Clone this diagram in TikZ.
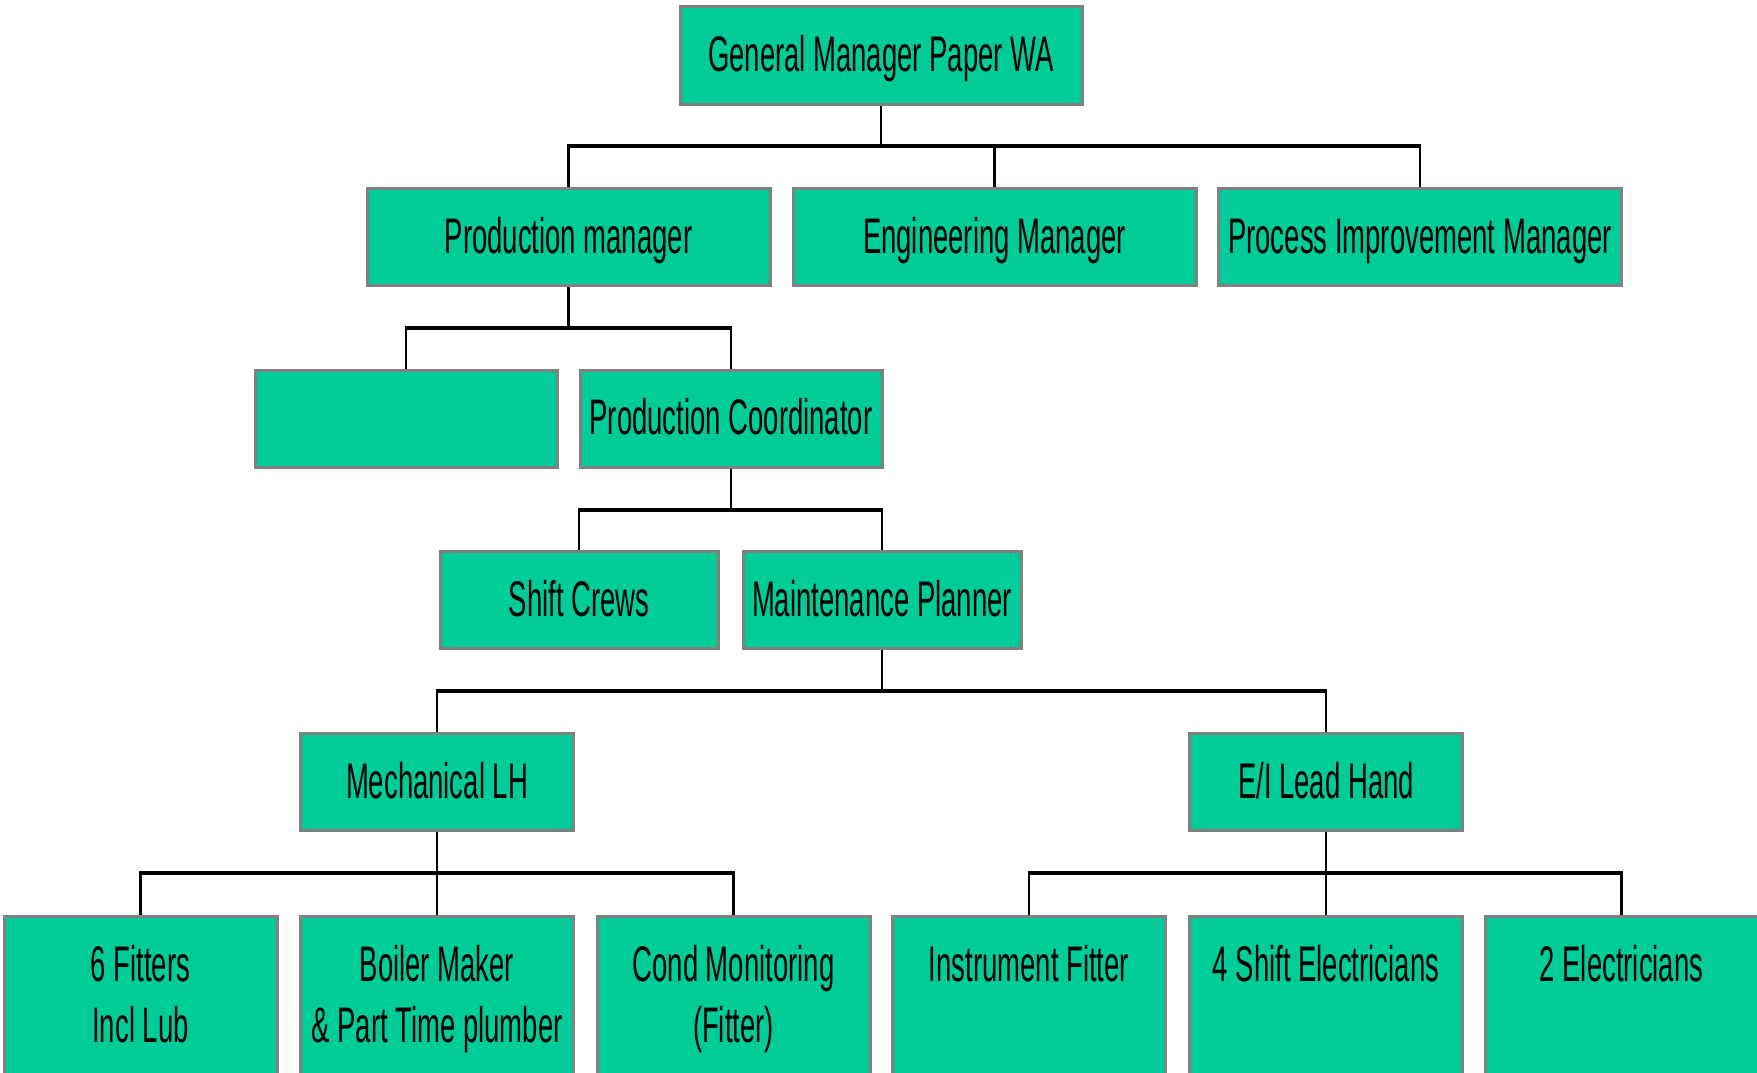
\documentclass[tikz,border=0pt]{standalone}
\usepackage{fontspec}
\setmainfont{Liberation Sans}[FakeStretch=0.55]
\definecolor{boxgreen}{RGB}{0,204,153}
\definecolor{boxgray}{RGB}{128,128,128}
\begin{document}
\begin{tikzpicture}[x=1pt,y=-1pt,
  box/.style={draw=boxgray, line width=3pt, fill=boxgreen, rectangle, inner sep=0pt,
    minimum height=97pt, text height=32pt, text depth=0pt,
    font=\fontsize{50}{61}\selectfont},
  tallbox/.style={draw=boxgray, line width=3pt, fill=boxgreen, rectangle, inner sep=0pt,
    minimum height=190pt, minimum width=273pt},
  txt/.style={align=center, inner sep=0pt, anchor=north, font=\fontsize{50}{61}\selectfont},
  stem/.style={line width=2.2pt, black},
  bus/.style={line width=3.6pt, black}]
\useasboundingbox (0,0) rectangle (1757,1073);
% level 1
\node[box, minimum width=402pt] (gm) at (881,55.5) {General Manager Paper WA};
% level 2
\node[box, minimum width=403pt] (pm) at (568.5,237) {Production manager};
\node[box, minimum width=403pt] (em) at (994.5,237) {Engineering Manager};
\node[box, minimum width=403pt] (pim) at (1420,237) {Process Improvement Manager};
% level 3
\node[box, minimum width=302pt] (blank) at (406,418.5) {};
\node[box, minimum width=302pt] (pc) at (731,418.5) {Production Coordinator};
% level 4
\node[box, minimum width=278pt] (sc) at (579,600) {Shift Crews};
\node[box, minimum width=278pt] (mp) at (882,600) {Maintenance Planner};
% level 5
\node[box, minimum width=273pt] (mlh) at (437,782) {Mechanical LH};
\node[box, minimum width=273pt] (ei) at (1326,782) {E/I Lead Hand};
% level 6
\node[tallbox, anchor=north] (f6) at (140.5,915) {};
\node[tallbox, anchor=north] (bm) at (437,915) {};
\node[tallbox, anchor=north] (cm) at (733.5,915) {};
\node[tallbox, anchor=north] (inf) at (1029,915) {};
\node[tallbox, anchor=north] (se4) at (1326,915) {};
\node[tallbox, anchor=north] (el2) at (1621.5,915) {};
\node[txt] (tf6) at ([yshift=-30pt]f6.north) {6 Fitters\\Incl Lub};
\node[txt] (tbm) at ([yshift=-30pt]bm.north) {Boiler Maker\\\& Part Time plumber};
\node[txt] (tcm) at ([yshift=-30pt]cm.north) {Cond Monitoring\\(Fitter)};
\node[txt] (tinf) at ([yshift=-30pt]inf.north) {Instrument Fitter};
\node[txt] (tse4) at ([yshift=-30pt]se4.north) {4 Shift Electricians};
\node[txt] (tel2) at ([yshift=-30pt]el2.north) {2 Electricians};
% bus coordinates
\coordinate (b1) at (0,146);
\coordinate (b2) at (0,328);
\coordinate (b3) at (0,510);
\coordinate (b4) at (0,691);
\coordinate (b5) at (0,873);
% stems
\foreach \c in {pm,em,pim} \draw[stem] (gm.south) -- (gm.south |- b1) (\c.north |- b1) -- (\c.north);
\foreach \c in {blank,pc} \draw[stem] (pm.south) -- (pm.south |- b2) (\c.north |- b2) -- (\c.north);
\foreach \c in {sc,mp} \draw[stem] (pc.south) -- (pc.south |- b3) (\c.north |- b3) -- (\c.north);
\foreach \c in {mlh,ei} \draw[stem] (mp.south) -- (mp.south |- b4) (\c.north |- b4) -- (\c.north);
\foreach \c in {f6,bm,cm} \draw[stem] (mlh.south) -- (mlh.south |- b5) (\c.north |- b5) -- (\c.north);
\foreach \c in {inf,se4,el2} \draw[stem] (ei.south) -- (ei.south |- b5) (\c.north |- b5) -- (\c.north);
% buses
\draw[bus] ([xshift=-1.1pt]pm.north |- b1) -- ([xshift=1.1pt]pim.north |- b1);
\draw[bus] ([xshift=-1.1pt]blank.north |- b2) -- ([xshift=1.1pt]pc.north |- b2);
\draw[bus] ([xshift=-1.1pt]sc.north |- b3) -- ([xshift=1.1pt]mp.north |- b3);
\draw[bus] ([xshift=-1.1pt]mlh.north |- b4) -- ([xshift=1.1pt]ei.north |- b4);
\draw[bus] ([xshift=-1.1pt]f6.north |- b5) -- ([xshift=1.1pt]cm.north |- b5);
\draw[bus] ([xshift=-1.1pt]inf.north |- b5) -- ([xshift=1.1pt]el2.north |- b5);
\end{tikzpicture}
\end{document}
